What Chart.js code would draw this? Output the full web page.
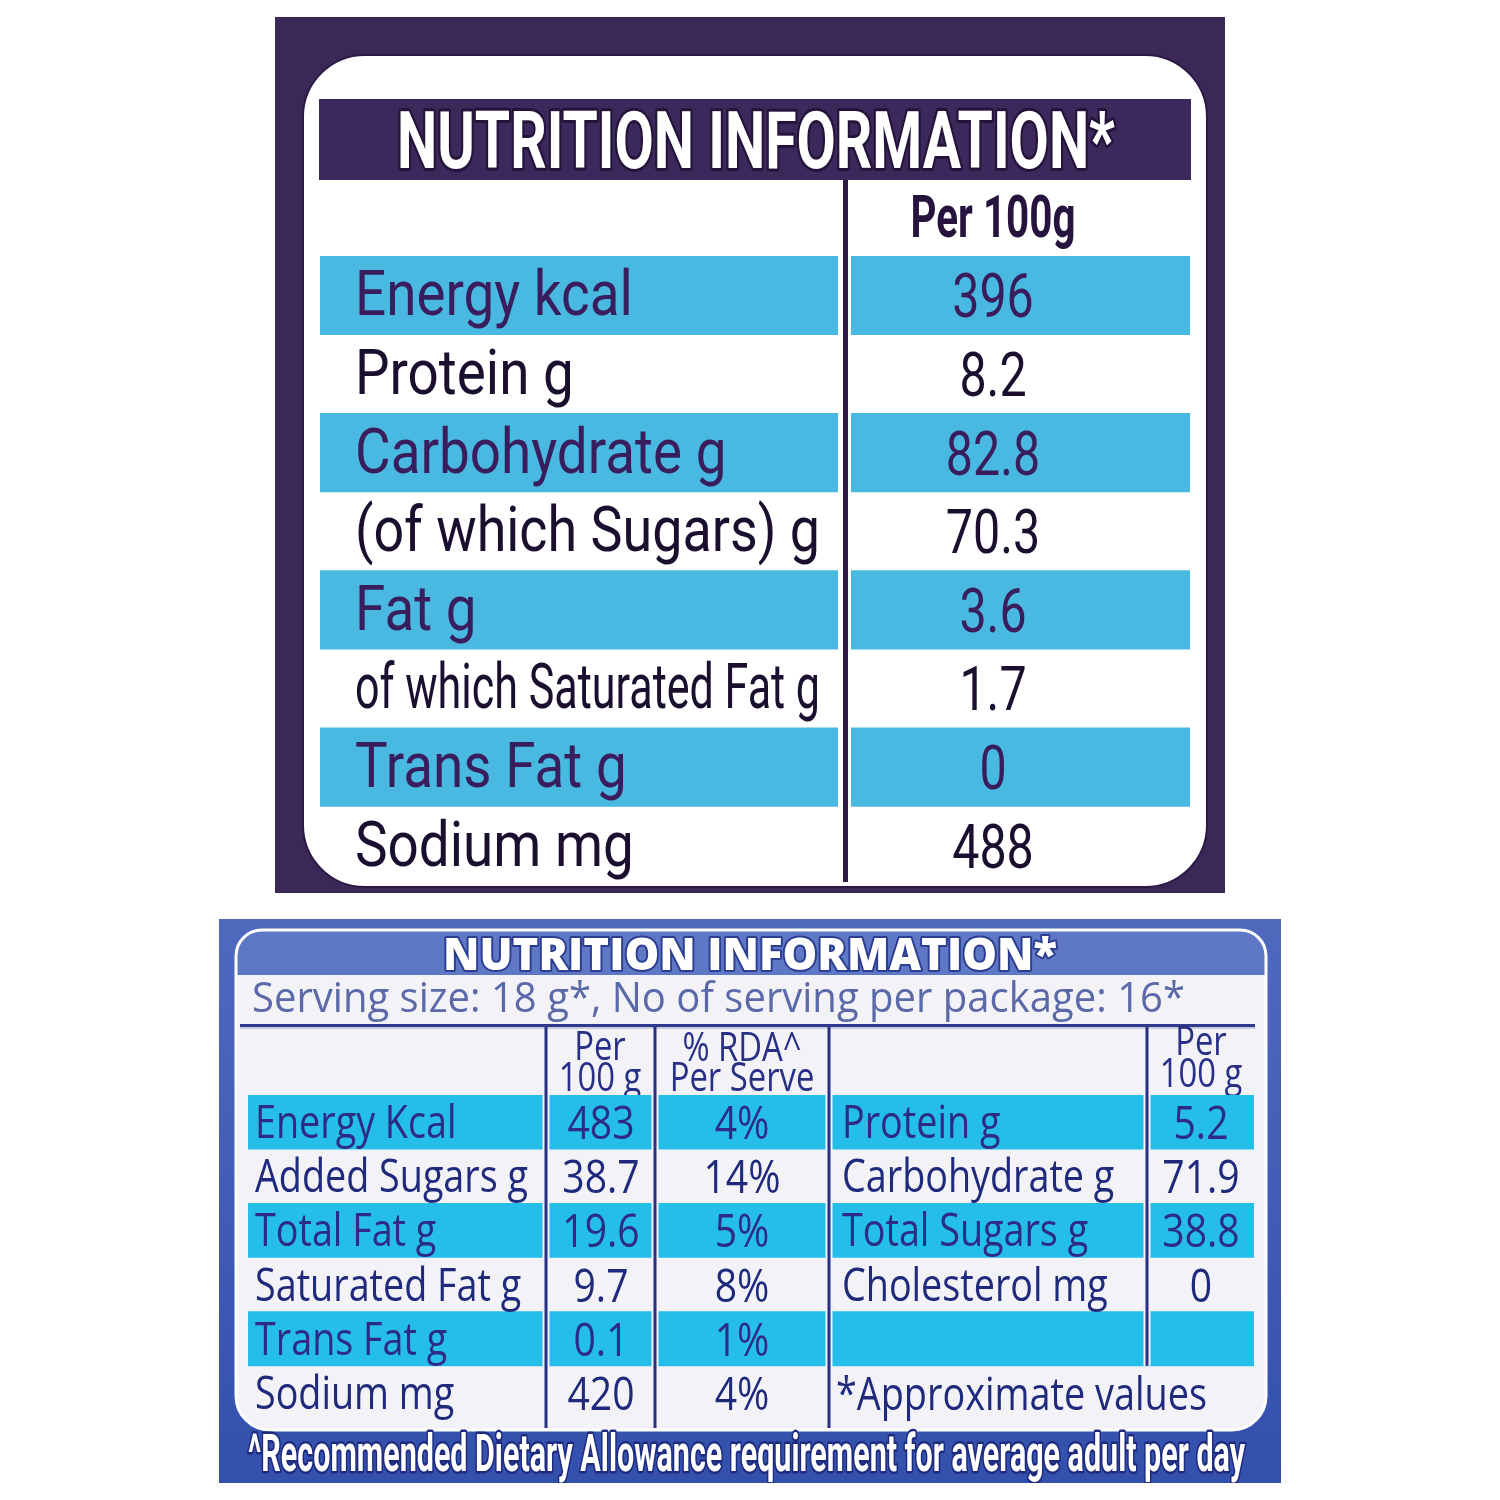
<!DOCTYPE html>
<html><head><meta charset="utf-8">
<script src="https://cdn.jsdelivr.net/npm/chart.js@4/dist/chart.umd.min.js"></script>
<style>
html,body{margin:0;padding:0;background:#fff;width:1500px;height:1500px;overflow:hidden}
canvas{position:absolute;display:block}
#c1{left:275px;top:17px}
#c2{left:219px;top:919px}
</style></head>
<body>
<canvas id="c1" width="950" height="876"></canvas>
<canvas id="c2" width="1062" height="564"></canvas>
<script>
// ---------- DATA ----------
const topTitle = "NUTRITION INFORMATION*";
const topHeader = "Per 100g";
const topNutrients = ["Energy kcal","Protein g","Carbohydrate g","(of which Sugars) g","Fat g","of which Saturated Fat g","Trans Fat g","Sodium mg"];
const topValues = [396, 8.2, 82.8, 70.3, 3.6, 1.7, 0, 488];
const topStriped = [true,false,true,false,true,false,true,false];

const botTitle = "NUTRITION INFORMATION*";
const botServing = "Serving size: 18 g*, No of serving per package: 16*";
const botHeaders = [["Per","100 g"],["% RDA^","Per Serve"],["Per","100 g"]];
const botNutrients = ["Energy Kcal","Added Sugars g","Total Fat g","Saturated Fat g","Trans Fat g","Sodium mg"];
const botPer100 = [483, 38.7, 19.6, 9.7, 0.1, 420];
const botRda = [4, 14, 5, 8, 1, 4];
const botRightNutrients = ["Protein g","Carbohydrate g","Total Sugars g","Cholesterol mg"];
const botRightPer100 = [5.2, 71.9, 38.8, 0];
const botNote = "*Approximate values";
const botStriped = [true,false,true,false,true,false];
const botFootnote = "^Recommended Dietary Allowance requirement for average adult per day";

// ---------- HELPERS ----------
function drawText(ctx, s, x, y, o) {
  ctx.save();
  ctx.font = o.font;
  ctx.textAlign = 'left';
  ctx.textBaseline = 'alphabetic';
  const nw = ctx.measureText(s).width;
  let k = o.sx || 1;
  if (o.maxW && nw * k > o.maxW) k = o.maxW / nw;
  const w = nw * k;
  let x0 = x;
  if (o.align === 'center') x0 = x - w / 2;
  else if (o.align === 'right') x0 = x - w;
  ctx.translate(x0, y);
  ctx.scale(k, 1);
  if (o.stroke) {
    ctx.lineJoin = 'round';
    ctx.lineWidth = o.strokeW || 4;
    ctx.strokeStyle = o.stroke;
    ctx.strokeText(s, 0, 0);
  }
  ctx.fillStyle = o.color;
  ctx.fillText(s, 0, 0);
  ctx.restore();
}
function rrect(ctx, x, y, w, h, r) {
  ctx.beginPath();
  ctx.roundRect(x, y, w, h, r);
}

// ---------- TOP LABEL ----------
const T = {x: 275, y: 17};
const topPlugin = {
  id: 'topLabel',
  beforeDraw(chart) {
    const ctx = chart.ctx;
    ctx.save();
    ctx.translate(-T.x, -T.y);
    ctx.fillStyle = '#3a2858';
    ctx.fillRect(275, 17, 950, 876);
    rrect(ctx, 303, 55, 904, 832, 62);
    ctx.fillStyle = '#ffffff';
    ctx.fill();
    ctx.lineWidth = 2;
    ctx.strokeStyle = '#2a1a44';
    ctx.stroke();
    ctx.fillStyle = '#3c295b';
    ctx.fillRect(319, 99, 872, 81);
    drawText(ctx, topTitle, 756, 168, {font: 'bold 80px Roboto', maxW: 718, color: '#ffffff', stroke: '#24133a', strokeW: 6, align: 'center'});
    drawText(ctx, topHeader, 993, 237, {font: 'bold 60px Roboto', maxW: 165, color: '#26143f', align: 'center'});
    ctx.restore();
  },
  afterDatasetsDraw(chart) {
    const ctx = chart.ctx;
    const ys = chart.scales.y;
    const ca = chart.chartArea;
    ctx.save();
    ctx.translate(-T.x, -T.y);
    ctx.fillStyle = '#ffffff';
    ctx.fillRect(838, ca.top + T.y, 13, ca.bottom - ca.top);
    ctx.fillStyle = '#2d1b45';
    ctx.fillRect(843, 180, 5, 702);
    topNutrients.forEach((n, i) => {
      const cy = ys.getPixelForValue(i) + T.y;
      const col = topStriped[i] ? '#391d5c' : '#1a0f2e';
      drawText(ctx, n, 355, cy + 20, {font: '400 63px Roboto', sx: 0.87, maxW: 465, color: col});
      drawText(ctx, String(topValues[i]), 993, cy + 22, {font: '400 62px Roboto', sx: 0.78, color: col, align: 'center'});
    });
    ctx.restore();
  }
};

new Chart(document.getElementById('c1'), {
  type: 'bar',
  data: {
    labels: topNutrients,
    datasets: [{
      data: topStriped.map(s => s ? 1 : null),
      backgroundColor: '#49b9e1',
      borderWidth: 0,
      barPercentage: 1,
      categoryPercentage: 1
    }]
  },
  options: {
    indexAxis: 'y',
    responsive: false,
    animation: false,
    devicePixelRatio: 1,
    events: [],
    layout: {padding: {left: 45, right: 35, top: 239, bottom: 8}},
    scales: {
      x: {display: false, min: 0, max: 1},
      y: {display: false}
    },
    plugins: {legend: {display: false}, tooltip: {enabled: false}}
  },
  plugins: [topPlugin]
});

// ---------- BOTTOM LABEL ----------
const B = {x: 219, y: 919};
const navy = '#272f86';
const botBg = '#f3f3f7';
const botPlugin = {
  id: 'botLabel',
  beforeDraw(chart) {
    const ctx = chart.ctx;
    ctx.save();
    ctx.translate(-B.x, -B.y);
    const g = ctx.createLinearGradient(0, 919, 0, 1483);
    g.addColorStop(0, '#5069bd');
    g.addColorStop(1, '#3350ad');
    ctx.fillStyle = g;
    ctx.fillRect(219, 919, 1062, 564);
    rrect(ctx, 236, 930, 1030, 500, [26, 26, 34, 34]);
    ctx.fillStyle = botBg;
    ctx.fill();
    ctx.save();
    ctx.clip();
    ctx.fillStyle = '#5f78c6';
    ctx.fillRect(236, 930, 1030, 45);
    ctx.restore();
    rrect(ctx, 236, 930, 1030, 500, [26, 26, 34, 34]);
    ctx.lineWidth = 3;
    ctx.strokeStyle = '#ffffff';
    ctx.stroke();
    drawText(ctx, botTitle, 750, 970, {font: '800 44px "Open Sans"', maxW: 614, color: '#ffffff', stroke: '#2c3d92', strokeW: 4, align: 'center'});
    drawText(ctx, botServing, 252, 1012, {font: '400 42px "Open Sans"', maxW: 933, color: '#5b69a8'});
    ctx.fillStyle = '#2d3a8e';
    ctx.fillRect(240, 1024, 1015, 3);
    ctx.fillStyle = '#c8cbd8';
    ctx.fillRect(240, 1027, 1015, 2);
    const hx = [600, 742, 1201];
    const hy = [[1060, 1091], [1061, 1091], [1055, 1087]];
    botHeaders.forEach((h, j) => {
      h.forEach((line, k) => {
        drawText(ctx, line, hx[j], hy[j][k], {font: '400 40px "Open Sans"', sx: 0.82, color: navy, align: 'center'});
      });
    });
    drawText(ctx, botFootnote, 248, 1471, {font: 'bold 52px Roboto', maxW: 997, color: '#ffffff', stroke: '#1d2a7e', strokeW: 5});
    ctx.restore();
  },
  afterDatasetsDraw(chart) {
    const ctx = chart.ctx;
    const ys = chart.scales.y;
    const ca = chart.chartArea;
    ctx.save();
    ctx.translate(-B.x, -B.y);
    const top = ca.top + B.y, h = ca.bottom - ca.top;
    const lastStripeBottom = ys.getPixelForValue(botNutrients.length - 2) + h / botNutrients.length / 2 + B.y;
    [546, 655, 829].forEach(x => {
      ctx.fillStyle = botBg;
      ctx.fillRect(x - 3.5, top, 7, h);
      ctx.fillStyle = navy;
      ctx.fillRect(x - 1.5, 1027, 3, 1428 - 1027);
    });
    ctx.fillStyle = botBg;
    ctx.fillRect(1143.5, top, 7, lastStripeBottom - top);
    ctx.fillStyle = navy;
    ctx.fillRect(1145.5, 1027, 3, lastStripeBottom - 1027);

    const f = '400 46px "Open Sans"';
    botNutrients.forEach((n, i) => {
      const cy = ys.getPixelForValue(i) + B.y;
      const col = botStriped[i] ? '#2e2b86' : '#1f2a7c';
      drawText(ctx, n, 255, cy + 16, {font: f, sx: 0.82, maxW: 275, color: col});
      drawText(ctx, String(botPer100[i]), 601, cy + 17, {font: f, sx: 0.85, color: col, align: 'center'});
      drawText(ctx, botRda[i] + '%', 742, cy + 17, {font: f, sx: 0.85, color: col, align: 'center'});
      if (i < botRightNutrients.length) {
        drawText(ctx, botRightNutrients[i], 842, cy + 16, {font: f, sx: 0.82, maxW: 280, color: col});
        drawText(ctx, String(botRightPer100[i]), 1201, cy + 17, {font: f, sx: 0.85, color: col, align: 'center'});
      }
      if (i === botNutrients.length - 1) {
        drawText(ctx, botNote, 836, cy + 17, {font: f, sx: 0.85, maxW: 371, color: col});
      }
    });
    ctx.restore();
  }
};

new Chart(document.getElementById('c2'), {
  type: 'bar',
  data: {
    labels: botNutrients,
    datasets: [{
      data: botStriped.map(s => s ? 1 : null),
      backgroundColor: '#24bee8',
      borderWidth: 0,
      barPercentage: 1,
      categoryPercentage: 1
    }]
  },
  options: {
    indexAxis: 'y',
    responsive: false,
    animation: false,
    devicePixelRatio: 1,
    events: [],
    layout: {padding: {left: 29, right: 27, top: 176, bottom: 63}},
    scales: {
      x: {display: false, min: 0, max: 1},
      y: {display: false}
    },
    plugins: {legend: {display: false}, tooltip: {enabled: false}}
  },
  plugins: [botPlugin]
});
</script>
</body></html>
